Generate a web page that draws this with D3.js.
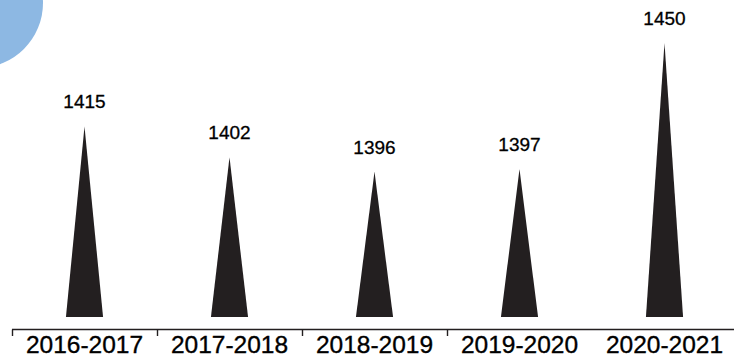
<!DOCTYPE html>
<html>
<head>
<meta charset="utf-8">
<script src="https://cdn.jsdelivr.net/npm/d3@7"></script>
<style>
  html, body { margin: 0; padding: 0; background: #fff; }
  svg { display: block; }
  text { font-family: "Liberation Sans", Arial, Helvetica, sans-serif; }
</style>
</head>
<body>
<script>
const categories = ["2016-2017", "2017-2018", "2018-2019", "2019-2020", "2020-2021"];
const values = [1415, 1402, 1396, 1397, 1450];
const yDomain = [1335, 1450];

const W = 734, H = 356;
const ink = "#231f20";

const svg = d3.select("body").append("svg")
  .attr("width", W).attr("height", H);

// decorative circle
svg.append("circle")
  .attr("cx", -22).attr("cy", 3).attr("r", 65)
  .attr("fill", "#8db8e3");

const x = d3.scaleBand().domain(categories).range([12, 737]).padding(0);
const y = d3.scaleLinear().domain(yDomain).range([317, 43]);

const baseY = 317;
const halfW = x.bandwidth() * 0.128;

const data = categories.map((c, i) => ({ c, v: values[i] }));

// triangles
svg.append("g").selectAll("path")
  .data(data).join("path")
  .attr("d", d => {
    const cx = x(d.c) + x.bandwidth() / 2;
    const p = d3.path();
    p.moveTo(cx - halfW, baseY);
    p.lineTo(cx, y(d.v));
    p.lineTo(cx + halfW, baseY);
    p.closePath();
    return p.toString();
  })
  .attr("fill", ink);

// value labels
svg.append("g").selectAll("text")
  .data(data).join("text")
  .attr("x", d => x(d.c) + x.bandwidth() / 2)
  .attr("y", d => y(d.v) - 18)
  .attr("text-anchor", "middle")
  .attr("font-size", 19)
  .attr("fill", "#000")
  .attr("stroke", "#000")
  .attr("stroke-width", 0.3)
  .text(d => d.v);

// axis
const axisY = 329.5;
const axis = d3.axisBottom(x).tickSize(0).tickPadding(0);
const gAxis = svg.append("g").attr("transform", `translate(0,${axisY})`).call(axis);
gAxis.select(".domain").remove();
gAxis.selectAll(".tick text")
  .attr("font-size", 24.5)
  .attr("fill", "#000")
  .attr("stroke", "#000")
  .attr("stroke-width", 0.35)
  .attr("dy", 0)
  .attr("y", 23)
  .style("font-family", '"Liberation Sans", Arial, Helvetica, sans-serif');

gAxis.append("line")
  .attr("x1", 12).attr("x2", W)
  .attr("y1", 0).attr("y2", 0)
  .attr("stroke", ink).attr("stroke-width", 1.4);

gAxis.append("g").selectAll("line")
  .data(categories.slice(0, 4)).join("line")
  .attr("x1", d => x(d) + 0.5).attr("x2", d => x(d) + 0.5)
  .attr("y1", 0).attr("y2", 6.5)
  .attr("stroke", ink).attr("stroke-width", 1.4);
</script>
</body>
</html>
